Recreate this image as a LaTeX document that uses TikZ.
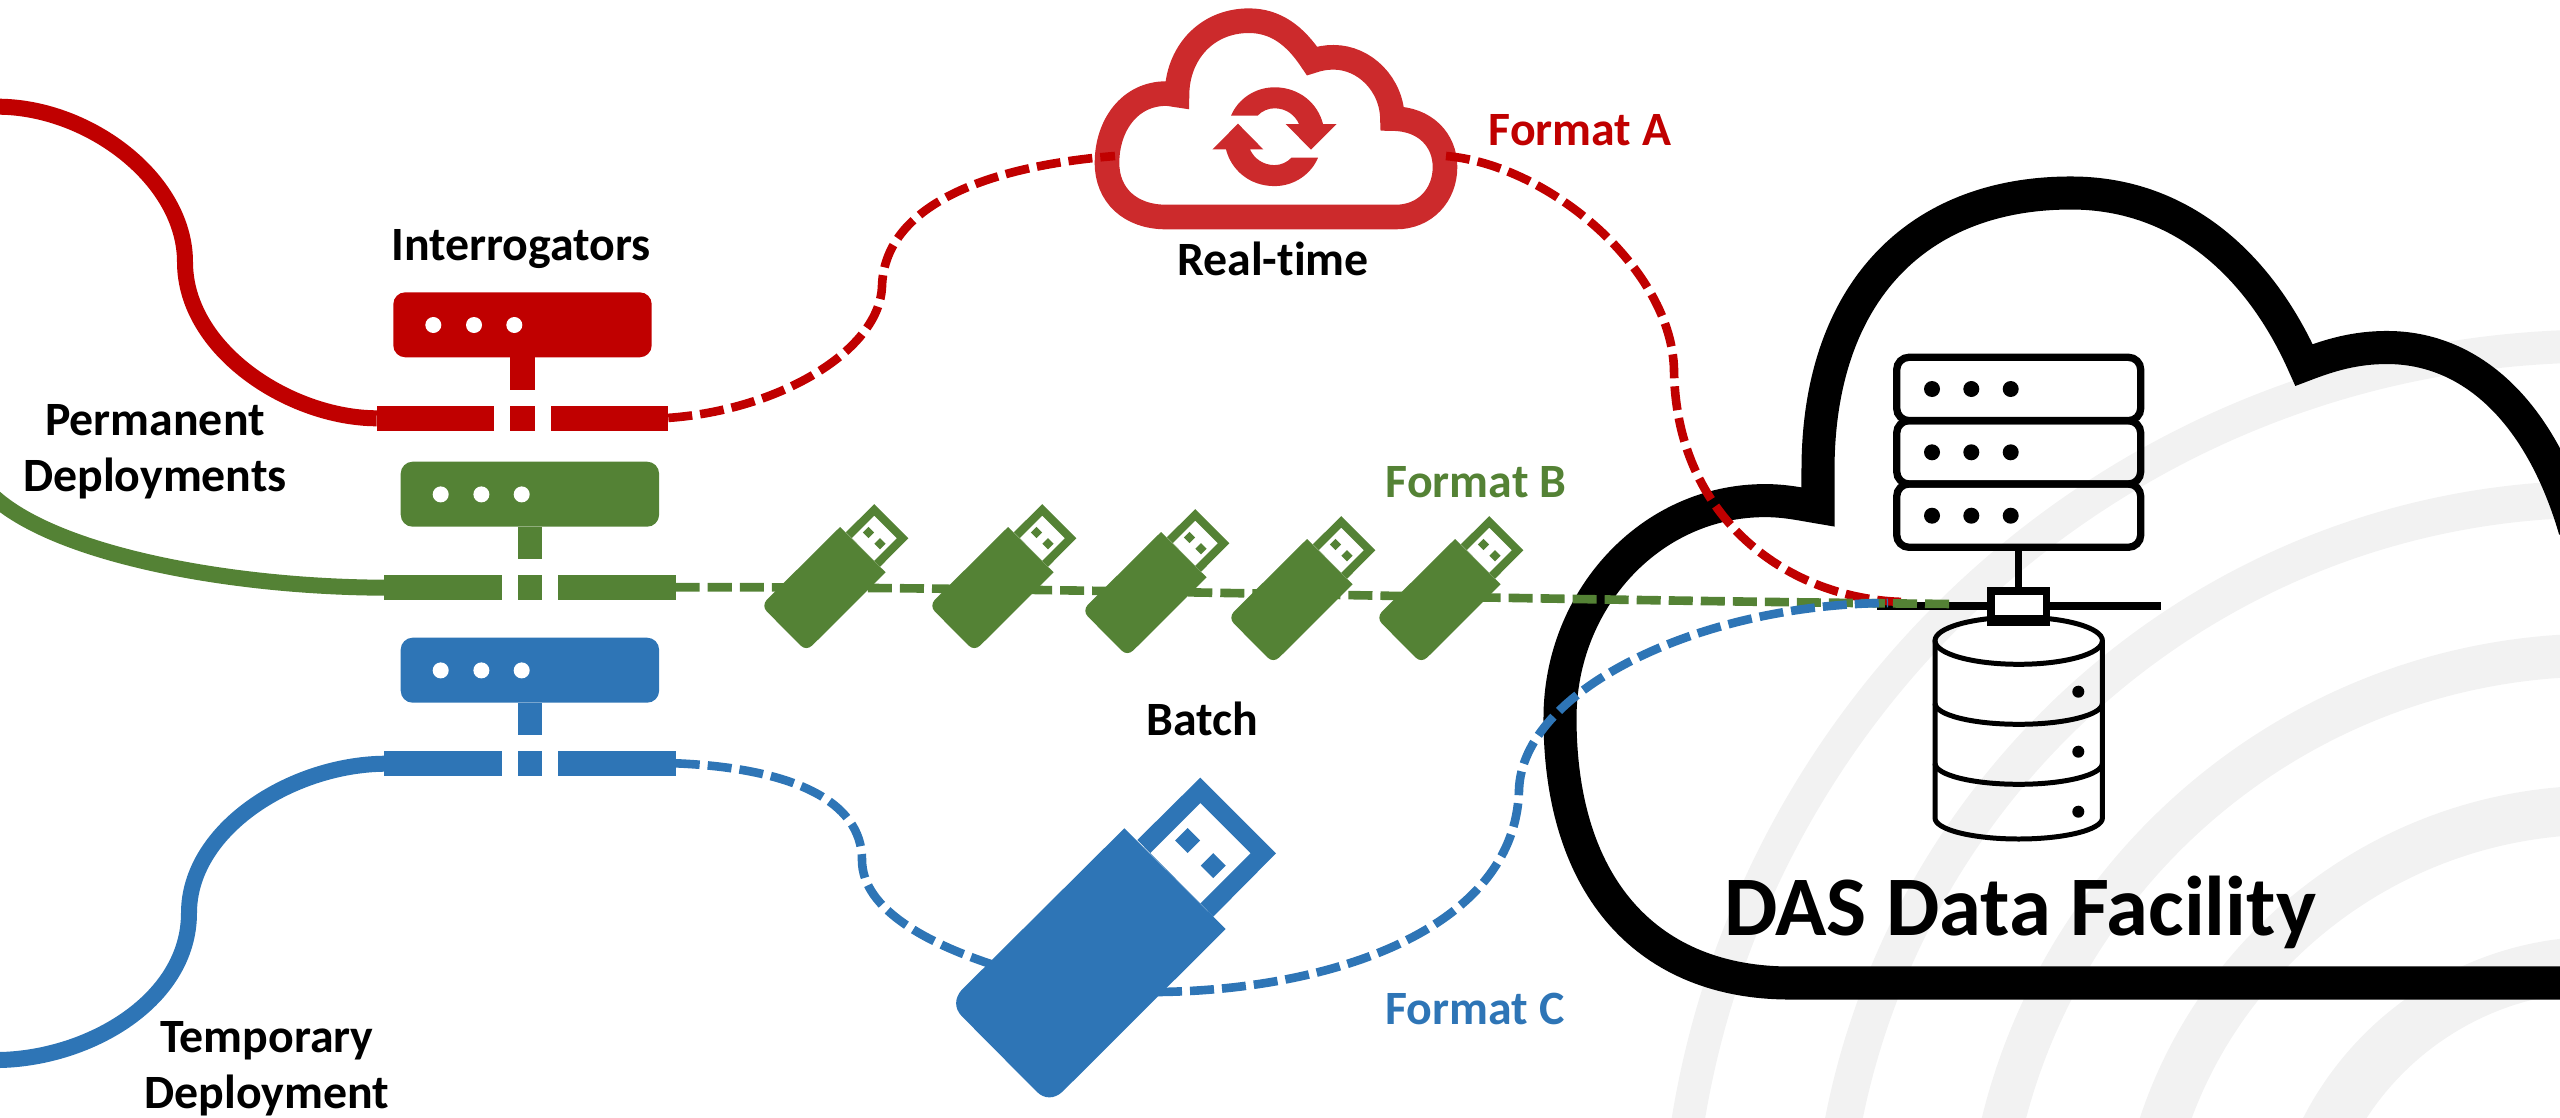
\documentclass[tikz,border=0pt]{standalone}
\usepackage{fontspec}
\setmainfont[Ligatures=NoCommon]{Carlito}
\usetikzlibrary{positioning,calc}

\definecolor{colA}{HTML}{C00000}
\definecolor{colB}{HTML}{548235}
\definecolor{colC}{HTML}{2E75B6}
\definecolor{colCloud}{HTML}{CC2A2C}
\definecolor{colBand}{HTML}{F2F2F2}

\tikzset{
  % one interrogator box with its tap on the fibre
  pics/intr/.style={code={
    \fill[#1, rounded corners=3.4pt] (0,0) rectangle (258.4,65);
    \foreach \dotx in {40,80.7,121} \fill[white] (\dotx,32.7) circle (8);
    \fill[#1] (117,65) rectangle (141.4,97.7);
    \fill[#1] (-16.6,113.7) rectangle (101,138.4);
    \fill[#1] (117,113.7) rectangle (141.4,138.4);
    \fill[#1] (157.4,113.7) rectangle (275,138.4);
    \coordinate (-in) at (-16.6,126);
    \coordinate (-out) at (275,125.6);
  }},
  % usb stick, origin at the top corner of its body
  pics/usb/.style={code={
    \fill[#1] (0,0) -- (101.3,100.7) -- (-61.7,263.3)
      .. controls (-70,271) and (-80,271) .. (-87.7,263.3) -- (-162.7,187.7)
      .. controls (-170,180) and (-170,170) .. (-162.7,161.7) -- cycle;
    \fill[#1, even odd rule] (13,11.7) -- (76,-50.7) -- (151.7,25) -- (89,88.3) -- cycle
      (25.7,25) -- (76,-25.3) -- (126.3,25) -- (76,75.3) -- cycle;
    \foreach \cx/\cy in {63.3/12.3,89/37.3}
      \fill[#1] (\cx-12.5,\cy) -- (\cx,\cy-12.5) -- (\cx+12.5,\cy) -- (\cx,\cy+12.5) -- cycle;
    \coordinate (-in) at (-124.3,138.7);
    \coordinate (-out) at (33.7,163.7);
  }}
}

\begin{document}
\begin{tikzpicture}[
  x=0.01cm, y=-0.01cm,
  font=\fontsize{13.6}{15.93}\selectfont\bfseries,
  cable/.style={line width=4.55pt},
  dashcable/.style={line width=2.45pt, dash pattern=on 6.83pt off 2.28pt},
  rackline/.style={line width=2.08pt, black},
  dbline/.style={line width=1.42pt, black},
  label/.style={anchor=base, inner sep=0pt},
  multi/.style={anchor=center, inner sep=0pt, align=center}
]
\clip (0,0) rectangle (2560,1118);

% faint rings behind everything
\foreach \rad/\wd in {924/33,771/37,615/43,460/49,306/55}
  \draw[colBand, line width=\wd*0.2845pt] (2600,1270) circle (\rad);

% big cloud
\draw[line width=9.4pt, miter limit=10] (2620,983) -- (1790,983)
  .. controls (1650,983) and (1560,890) .. (1560,718)
  .. controls (1560,600) and (1650,500.6) .. (1765,500.6)
  .. controls (1785,500.6) and (1800,504) .. (1818,507)
  -- (1818,470) .. controls (1818,295) and (1915,193) .. (2071,193)
  .. controls (2185,193) and (2262,270) .. (2304,365)
  .. controls (2330,355) and (2355,347.5) .. (2387,347.5)
  .. controls (2470,347.5) and (2540,410) .. (2575,530);

% small cloud
\draw[colCloud, line width=7pt, miter limit=10] (1166,217) -- (1396,217)
  .. controls (1425,217) and (1445,195) .. (1445,167)
  .. controls (1445,140) and (1425,118.6) .. (1392.4,118.6)
  .. controls (1392,85) and (1365,57.3) .. (1333.5,57.3)
  .. controls (1326,57.3) and (1319,58.5) .. (1312,61)
  .. controls (1295,35) and (1275,20.7) .. (1249,20.7)
  .. controls (1205,20.7) and (1177,55) .. (1177,95)
  .. controls (1173,94.5) and (1170,93.6) .. (1166,93.6)
  .. controls (1130,93.6) and (1107,125) .. (1107,163)
  .. controls (1107,195) and (1130,217) .. (1166,217) -- cycle;
\foreach \ang in {0,180}
  \fill[colCloud, rotate around={\ang:(1274.5,136.7)}] (1231,115.7)
    .. controls (1238,99) and (1255,87.3) .. (1274.5,87.3)
    .. controls (1300,87.3) and (1318,104) .. (1323,124)
    -- (1336.6,124) -- (1311,149.7) -- (1285.7,124) -- (1299,124)
    .. controls (1295,115) and (1286,108.3) .. (1274.5,108.3)
    .. controls (1268,108.3) and (1262,111) .. (1257.6,115.7) -- cycle;

% servers
\foreach \racky in {357.3,420.7,484}
  \draw[rackline, rounded corners=3.5pt] (1896.7,\racky) rectangle (2140.7,\racky+63.3);
\foreach \racky in {389,452.3,515.7}
  \foreach \dotx in {1932,1971.3,2010.7}
    \fill (\dotx,\racky) circle (8);
\draw[rackline] (2018.7,547) -- (2018.7,590);
\draw[rackline] (1877,606) -- (2160.7,606);

% storage
\draw[dbline] (2018.7,640.7) ellipse (83.7 and 23.6);
\draw[dbline] (1935,640.7) -- (1935,818) arc[start angle=180, end angle=0, x radius=83.7, y radius=21] -- (2102.3,640.7);
\foreach \dby in {703.3,763.3}
  \draw[dbline] (1935,\dby) arc[start angle=180, end angle=0, x radius=83.7, y radius=21];
\foreach \doty in {691.7,751.7,811.7}
  \fill (2078.3,\doty) circle (6);
\fill (1987,586.7) rectangle (2050.3,626);
\fill[white] (1994.7,594.7) rectangle (2042.7,615);

% end points of the links
\coordinate (tapA) at (1905,602);
\coordinate (tapB) at (1954,604);
\coordinate (tapC) at (1888,603);
\coordinate (cloudW) at (1115,156);
\coordinate (cloudE) at (1446,156);

% interrogators
\pic (irA) at (393.3,292.3) {intr=colA};
\pic (irB) at (400.7,461.7) {intr=colB};
\pic (irC) at (400.7,637.7) {intr=colC};

% fibres
\draw[colA, cable] (0,106.7) .. controls (90,108) and (185,180) .. (185,262)
  .. controls (185,350) and (290,418) .. (irA-in);
\draw[colB, cable] (-5,498) .. controls (60,555) and (230,587) .. (irB-in);
\draw[colC, cable] (irC-in) .. controls (290,765) and (189,830) .. (189,913)
  .. controls (189,1000) and (90,1058) .. (0,1060);

% links
\draw[colA, dashcable] (irA-out) .. controls (780,410) and (880,350) .. (882,286)
  .. controls (885,200) and (1000,165) .. (cloudW);
\draw[colA, dashcable] (cloudE) .. controls (1550,165) and (1672,270) .. (1674,370)
  .. controls (1676,520) and (1790,600) .. (tapA);
\draw[colB, dashcable] (irB-out) .. controls (1000,586) and (1500,600) .. (tapB);

% usb sticks
\foreach \ux/\uy [count=\ui] in {840/527,1008/527,1161/532,1307/539,1455/539}
  \pic[scale=.45] (usbB\ui) at (\ux,\uy) {usb=colB};
\pic (usbC) at (1124.3,828.3) {usb=colC};

\draw[colC, dashcable] (irC-out) .. controls (790,768) and (862,800) .. (862,860)
  .. controls (862,910) and (930,945) .. (usbC-in);
\draw[colC, dashcable] (usbC-out) .. controls (1330,990) and (1515,930) .. (1519,790)
  .. controls (1522,690) and (1700,604) .. (tapC);

% labels
\node[label, colA] (fmtA) at (1580,145.7) {Format A};
\node[label, colB] (fmtB) at (1476,497.3) {Format B};
\node[label, colC] (fmtC) at (1475,1024) {Format C};
\node[label] (realtime) at (1273,275) {Real-time};
\node[label] (interr) at (521,260) {Interrogators};
\node[label] (batch) at (1202,735) {Batch};
\node[multi] (perm) at (155,452) {Permanent\\Deployments};
\node[multi] (temp) at (267,1069) {Temporary\\Deployment};
\node[label, font=\fontsize{24.1}{28}\selectfont\bfseries] (facility) at (2020,935) {DAS Data Facility};

\end{tikzpicture}
\end{document}
